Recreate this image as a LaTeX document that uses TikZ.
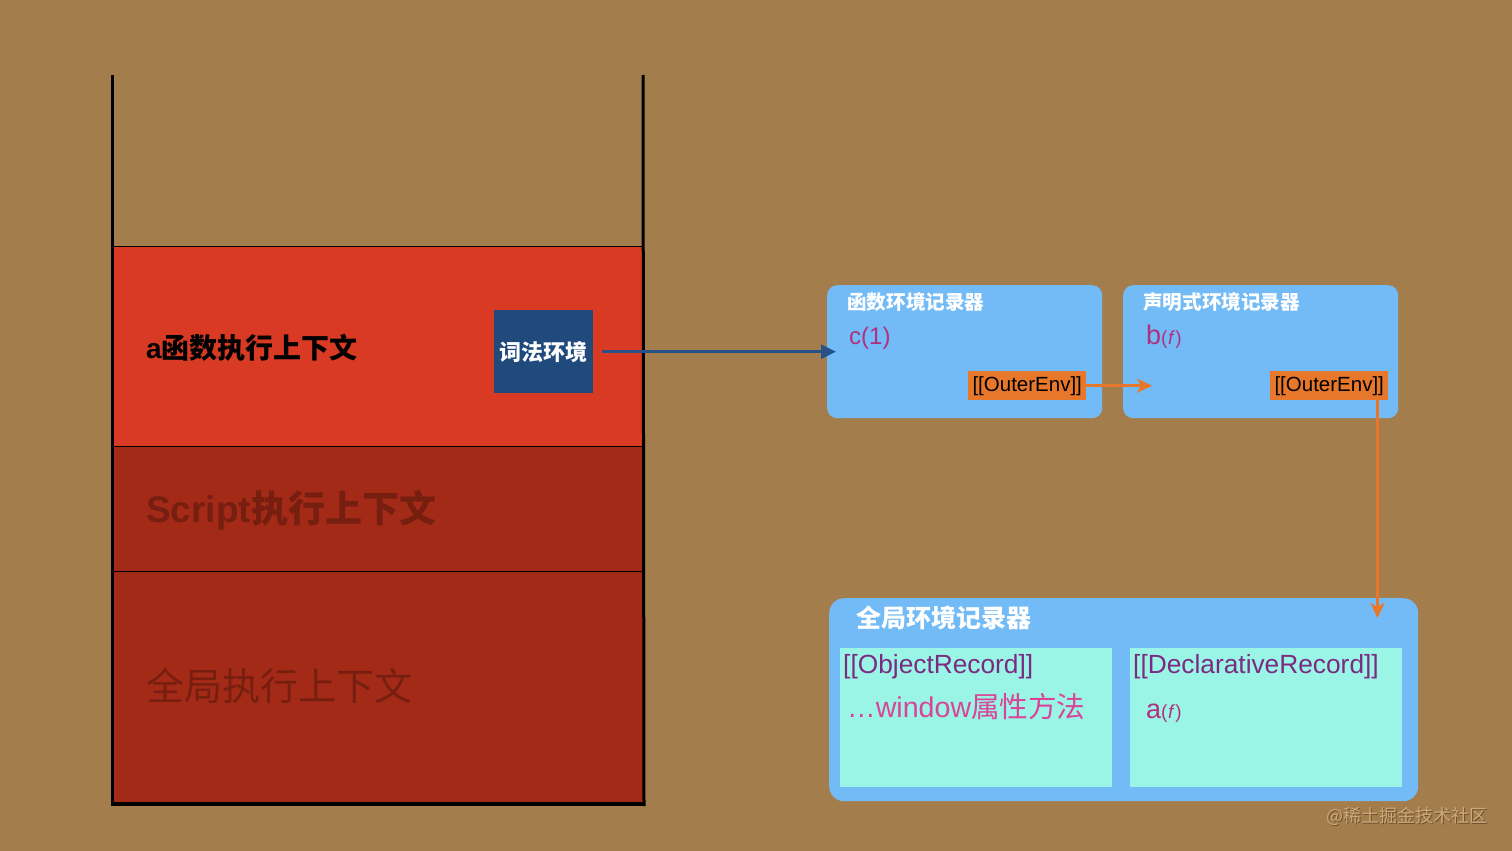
\documentclass[tikz,border=0pt]{standalone}
\usepackage{fontspec}
\setmainfont{Liberation Sans}
\newfontfamily\cjk{Noto Sans CJK SC}
\usetikzlibrary{arrows.meta,calc}
\newcommand\fs[1]{\fontsize{#1}{#1}\selectfont}
\definecolor{bg}{RGB}{164,125,77}
\definecolor{redtop}{RGB}{216,58,36}
\definecolor{reddark}{RGB}{164,42,24}
\definecolor{redtext}{RGB}{118,30,15}
\definecolor{lexblue}{RGB}{31,74,123}
\definecolor{arrblue}{RGB}{40,82,134}
\definecolor{lightblue}{RGB}{114,187,246}
\definecolor{orng}{RGB}{230,119,43}
\definecolor{aqua}{RGB}{154,245,230}
\definecolor{purp}{RGB}{123,43,128}
\definecolor{pinkt}{RGB}{218,68,152}
\definecolor{magt}{RGB}{176,48,128}
\definecolor{wm}{RGB}{204,168,122}
\definecolor{wmsh}{RGB}{110,80,45}
\tikzset{
  layer/.style={draw=black, line width=1pt, anchor=north west, inner sep=0pt},
  txt/.style={anchor=west, inner sep=0pt},
  envbox/.style={fill=lightblue, rounded corners=10pt, anchor=north west, inner sep=0pt},
  outerbox/.style={fill=orng, anchor=north west, inner sep=0pt, minimum width=118pt, minimum height=29pt, font=\fs{20.5}},
  recbox/.style={fill=aqua, anchor=north west, inner sep=0pt, minimum width=272pt, minimum height=139pt},
  title/.style={txt, text=white, font=\fs{19.6}\cjk\bfseries},
  oarrow/.style={draw=orng, line width=3pt, -{Stealth[length=15pt,width=14pt,inset=4pt]}},
}
\begin{document}
\begin{tikzpicture}[x=1pt,y=-1pt]
\fill[bg] (0,0) rectangle (1512,851);
\useasboundingbox (0,0) rectangle (1512,851);

% stack layers
\node[layer, fill=redtop, minimum width=531pt, minimum height=200pt] (actx) at (112,246) {};
\node[layer, fill=reddark, minimum width=531pt, minimum height=125pt] (sctx) at (112,446) {};
\node[layer, fill=reddark, minimum width=531pt, minimum height=232pt] (gctx) at (112,571) {};
\coordinate (wlt) at (112,75);
\coordinate (wrt) at (643,75);
\draw[line width=3pt] (wlt) -- (gctx.south west |- 0,806);
\draw[line width=3pt] (wrt) -- (gctx.south east |- 0,806);
\draw[line width=3.5pt] (gctx.south west) -- (gctx.south east);

\node[txt, font=\fs{28}\bfseries] (atxt) at (146,348) {a{\cjk 函数执行上下文}};
\node[txt, font=\fs{37}\bfseries, text=redtext] (stxt) at (146,510) {Script{\cjk 执行上下文}};
\node[txt, font=\fs{38}\cjk, text=redtext] (gtxt) at (146,686) {全局执行上下文};

\node[fill=lexblue, anchor=north west, inner sep=0pt, minimum width=99pt, minimum height=83pt, text=white, font=\fs{22}\cjk\bfseries] (lex) at (494,310) {词法环境};

% function env record
\node[envbox, minimum width=275pt, minimum height=133pt] (fenv) at (827,285) {};
\node[title] (ftitle) at (847,302) {函数环境记录器};
\node[txt, text=magt, font=\fs{24}] (c1) at (849,338) {c(1)};
\node[outerbox] (oe1) at (968,371) {[[OuterEnv]]};

% declarative env record
\node[envbox, minimum width=275pt, minimum height=133pt] (denv) at (1123,285) {};
\node[title] (dtitle) at (1143,302) {声明式环境记录器};
\node[txt, text=magt, font=\fs{27}] (bf) at (1146,337) {b{\fs{19}(\kern0.5pt\textit{f}\kern0.5pt)}};
\node[outerbox] (oe2) at (1270,371) {[[OuterEnv]]};

% global env record
\node[envbox, rounded corners=15pt, minimum width=589pt, minimum height=203pt] (genv) at (829,598) {};
\node[title, font=\fs{25}\cjk\bfseries] (gtitle) at (856,618) {全局环境记录器};
\node[recbox] (orec) at (840,648) {};
\node[recbox] (drec) at (1130,648) {};
\node[txt, text=purp, font=\fs{26.3}] (ortxt) at (843,667) {[[ObjectRecord]]};
\node[txt, text=pinkt, font=\fs{28.6}] (wtxt) at (846,707) {\kern1pt\ldots window{\cjk 属性方法}};
\node[txt, text=purp, font=\fs{26.3}] (drtxt) at (1133,667) {[[DeclarativeRecord]]};
\node[txt, text=magt, font=\fs{27}] (af) at (1146,713) {a{\fs{19}(\kern0.5pt\textit{f}\kern0.5pt)}};

% connectors
\draw[draw=arrblue, line width=3pt, -{Triangle[length=15pt,width=14pt]}] ($(lex.east)+(9,0)$) -- ($(fenv.west)+(9,0)$);
\coordinate (oe1end) at ($(denv.west |- oe1.east)+(29,0)$);
\draw[oarrow] (oe1.east) -- (oe1end);
\coordinate (oe2start) at ($(oe2.south east)+(-11,0)$);
\coordinate (oe2end) at ($(oe2start |- genv.north)+(0,20)$);
\draw[oarrow] (oe2start) -- (oe2end);

% watermark
\node[anchor=east, inner sep=0pt, font=\fs{18}\cjk, text=wmsh] (wms) at (1489,817) {@稀土掘金技术社区};
\node[anchor=east, inner sep=0pt, font=\fs{18}\cjk, text=wm] (wmk) at (1488,816) {@稀土掘金技术社区};
\end{tikzpicture}
\end{document}
